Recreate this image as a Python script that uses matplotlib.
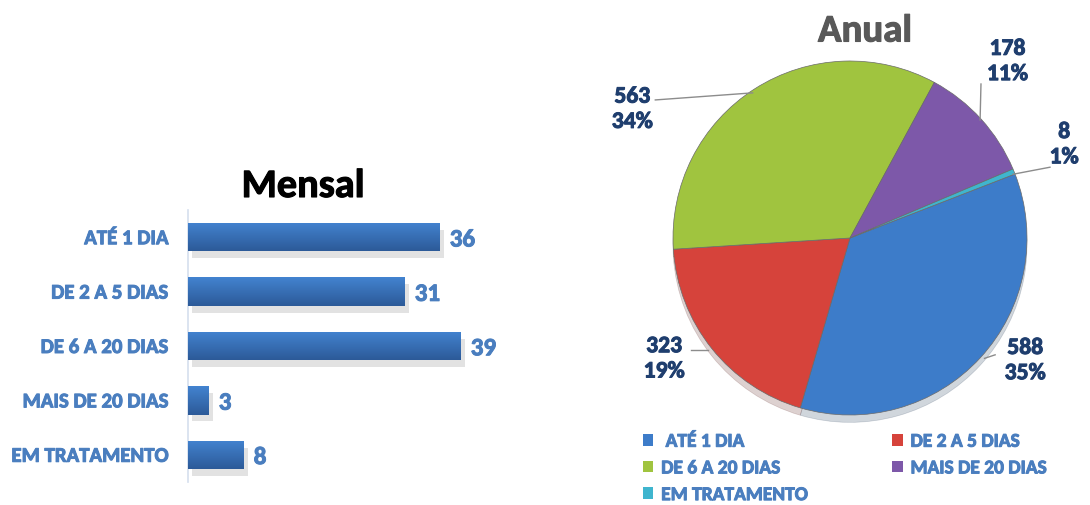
import numpy as np
import matplotlib
matplotlib.use("Agg")
import matplotlib.pyplot as plt
from matplotlib import patheffects as pe
from matplotlib.patches import Patch

# ---- data ----
categories = ["ATÉ 1 DIA", "DE 2 A 5 DIAS", "DE 6 A 20 DIAS", "MAIS DE 20 DIAS", "EM TRATAMENTO"]
mensal = [36, 31, 39, 3, 8]
anual = [588, 323, 563, 178, 8]
anual_pct = ["35%", "19%", "34%", "11%", "1%"]

pie_colors = ["#3D7CC9", "#D6433B", "#A0C43F", "#7D58A9", "#3FB5CE"]
bar_top = np.array([0x43, 0x83, 0xD0]) / 255
bar_bot = np.array([0x2C, 0x5A, 0x98]) / 255
label_blue = "#4A7EBF"
navy = "#1F3E6E"

plt.rcParams["font.family"] = ["Carlito", "DejaVu Sans"]
plt.rcParams["font.weight"] = "bold"


def heavy(color, lw=0.7):
    # slightly thicker glyphs
    return [pe.withStroke(linewidth=lw, foreground=color)]


fig = plt.figure(figsize=(10.9, 5.05), dpi=100)
W, H = 1090, 505

# ---- Mensal (horizontal bars) ----
axb = fig.add_axes([188 / W, 1 - 482 / H, 315 / W, 272 / H])
ypos = np.arange(len(categories))
bars = axb.barh(ypos, mensal, height=0.52, color="#3A70B8", zorder=2)
shadow = [pe.SimplePatchShadow(offset=(3, -5), shadow_rgbFace="#a0a0a0", alpha=0.3), pe.Normal()]
grad = np.linspace(0, 1, 64)[:, None, None]
grad_img = bar_top[None, None, :] * (1 - grad) + bar_bot[None, None, :] * grad
for b in bars:
    b.set_path_effects(shadow)
    x0, y0, w, h = b.get_x(), b.get_y(), b.get_width(), b.get_height()
    im = axb.imshow(grad_img, extent=[x0, x0 + w, y0 + h, y0], aspect="auto", zorder=3,
                    interpolation="bilinear")
    im.set_clip_path(b)
axb.set_xlim(0, 45)
axb.set_ylim(4.5, -0.5)
axb.set_yticks(ypos)
axb.set_yticklabels(categories, fontsize=15, color=label_blue, fontweight="bold")
for t in axb.get_yticklabels():
    t.set_path_effects(heavy(label_blue))
axb.tick_params(axis="y", length=0, pad=14)
axb.set_xticks([])
for s in ["top", "right", "bottom"]:
    axb.spines[s].set_visible(False)
axb.spines["left"].set_color("#D5DFEE")
axb.spines["left"].set_linewidth(1.2)
for b, v in zip(bars, mensal):
    axb.annotate(str(v), (b.get_width(), b.get_y() + b.get_height() / 2),
                 xytext=(7, -2), textcoords="offset points", va="center", ha="left",
                 fontsize=18, color=label_blue, fontweight="bold",
                 path_effects=heavy(label_blue))
fig.text(303 / W, 1 - 186 / H, "Mensal", ha="center", va="center", fontsize=29,
         fontweight="bold", color="black", path_effects=heavy("black", 0.8))

# ---- Anual (pie) ----
R = 177
axp = fig.add_axes([(850 - R) / W, 1 - (238 + R) / H, 2 * R / W, 2 * R / H])
wedges, _ = axp.pie(anual, colors=pie_colors, startangle=21.2, counterclock=False,
                    radius=1.0, wedgeprops=dict(edgecolor="#6a6a6a", linewidth=0.5),
                    shadow=dict(ox=0.0, oy=-0.03, shade=0.6, alpha=0.2))
axp.set_xlim(-1, 1)
axp.set_ylim(-1, 1)
axp.set_aspect("equal")

# label positions and leader anchors, in pie radius units
label_xy = [(0.99, -0.69), (-1.05, -0.68), (-1.23, 0.73), (0.89, 1.0), (1.21, 0.53)]
line_from = [(0.82, -0.66), (-0.90, -0.63), (-1.10, 0.78), (0.74, 0.87), (1.13, 0.40)]
line_to = [(0.76, -0.68), (-0.80, -0.63), (-0.55, 0.82), (0.735, 0.667), (0.92, 0.36)]
for v, p, xy, lf, lt in zip(anual, anual_pct, label_xy, line_from, line_to):
    axp.text(xy[0], xy[1], f"{v}\n{p}", ha="center", va="center", fontsize=17,
             fontweight="bold", color=navy, linespacing=1.25, clip_on=False,
             path_effects=heavy(navy))
    axp.plot([lf[0], lt[0]], [lf[1], lt[1]], color="#8c8c8c", lw=1, clip_on=False)

fig.text(865 / W, 1 - 31 / H, "Anual", ha="center", va="center", fontsize=28,
         fontweight="bold", color="#595959", path_effects=heavy("#595959", 0.8))

# legend: two columns, row-major order
handles = [Patch(facecolor=c, edgecolor="none") for c in pie_colors]
order = [0, 2, 4, 1, 3]
leg_labels = [" " + categories[0]] + categories[1:]
leg = fig.legend([handles[i] for i in order], [leg_labels[i] for i in order], ncol=2,
                 loc="upper left", bbox_to_anchor=(633 / W, 1 - 424 / H), frameon=False,
                 fontsize=14, labelcolor=label_blue, handlelength=0.55, handleheight=0.55,
                 handletextpad=0.4, columnspacing=4.3, labelspacing=0.55, borderpad=0)
for t in leg.get_texts():
    t.set_path_effects(heavy(label_blue))

fig.savefig("out.png", dpi=100, facecolor="white")
